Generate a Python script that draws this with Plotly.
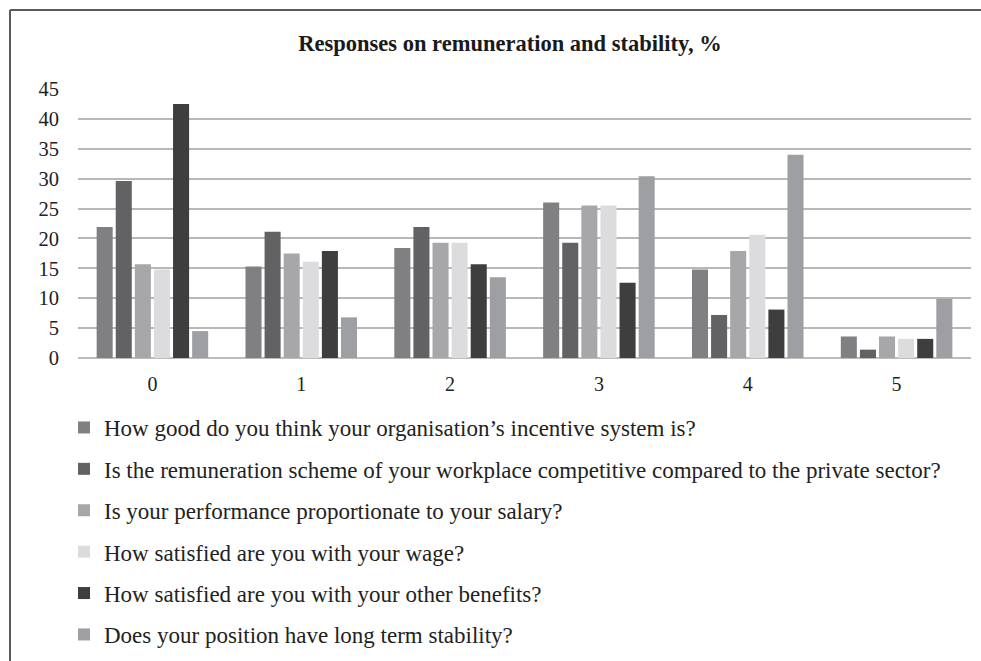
import plotly.graph_objects as go

categories = ["0", "1", "2", "3", "4", "5"]

series_names = [
    "How good do you think your organisation’s incentive system is?",
    "Is the remuneration scheme of your workplace competitive compared to the private sector?",
    "Is your performance proportionate to your salary?",
    "How satisfied are you with your wage?",
    "How satisfied are you with your other benefits?",
    "Does your position have long term stability?",
]

incentive_system = [21.9, 15.3, 18.4, 26.0, 14.8, 3.6]
remuneration_competitive = [29.6, 21.1, 21.9, 19.3, 7.2, 1.4]
performance_salary = [15.7, 17.5, 19.3, 25.5, 17.9, 3.6]
wage_satisfaction = [14.8, 16.1, 19.3, 25.5, 20.6, 3.2]
benefits_satisfaction = [42.5, 17.9, 15.7, 12.6, 8.1, 3.2]
long_term_stability = [4.5, 6.8, 13.5, 30.4, 34.0, 9.9]

series_values = [
    incentive_system,
    remuneration_competitive,
    performance_salary,
    wage_satisfaction,
    benefits_satisfaction,
    long_term_stability,
]

colors = ["#808083", "#626264", "#a7a7a9", "#dcdcde", "#3e3e3f", "#9e9fa2"]

y_ticks = [0, 5, 10, 15, 20, 25, 30, 35, 40, 45]

FONT = "Liberation Serif"

fig = go.Figure()
for i, (name, vals, col) in enumerate(zip(series_names, series_values, colors)):
    fig.add_trace(go.Bar(
        x=categories, y=vals, name=name,
        marker=dict(color=col, line=dict(width=0)),
        legendgroup=f"g{i}",
    ))

W, H = 981, 661
ml, mr, mt, mb = 78, 10, 89, 303
pw = W - ml - mr
ph = H - mt - mb

def px_x(p):
    return (p - ml) / pw

def px_y(p):
    return (H - mb - p) / ph

fig.update_layout(
    width=W, height=H,
    margin=dict(l=ml, r=mr, t=mt, b=mb, autoexpand=False),
    paper_bgcolor="white", plot_bgcolor="white",
    barmode="group", bargap=0.23, bargroupgap=0.16,
    font=dict(family=FONT, color="#222222", size=20),
    title=dict(
        text="<b>Responses on remuneration and stability, %</b>",
        font=dict(family=FONT, size=22.5, color="#1a1a1a"),
        x=510 / W, xref="container", xanchor="center",
        y=1 - 43 / H, yref="container", yanchor="middle",
    ),
    showlegend=True,
    legend=dict(
        xref="container", yref="container",
        x=64 / W, xanchor="left",
        y=1 - 406 / H, yanchor="top",
        orientation="v",
        font=dict(family=FONT, size=23, color="#222222"),
        tracegroupgap=8.5,
        bgcolor="rgba(0,0,0,0)",
        itemclick=False, itemdoubleclick=False,
    ),
    xaxis=dict(
        type="category", showgrid=False, ticks="", showline=False,
        tickfont=dict(family=FONT, size=20, color="#222222"),
        ticklabelstandoff=12,
    ),
    yaxis=dict(
        range=[0, 45], tickvals=y_ticks, showgrid=True,
        gridcolor="#b8b8b8", gridwidth=1.5,
        zeroline=True, zerolinecolor="#bdbdbd", zerolinewidth=2,
        ticks="", showline=False,
        tickfont=dict(family=FONT, size=20.5, color="#222222"),
        ticklabelstandoff=18,
    ),
    shapes=[
        dict(type="line", xref="paper", yref="paper",
             x0=px_x(10), x1=px_x(981), y0=px_y(10), y1=px_y(10),
             line=dict(color="#5a5a5a", width=2)),
        dict(type="line", xref="paper", yref="paper",
             x0=px_x(10), x1=px_x(10), y0=px_y(10), y1=px_y(661),
             line=dict(color="#5a5a5a", width=2)),
    ],
)

fig.write_html("out.html")
